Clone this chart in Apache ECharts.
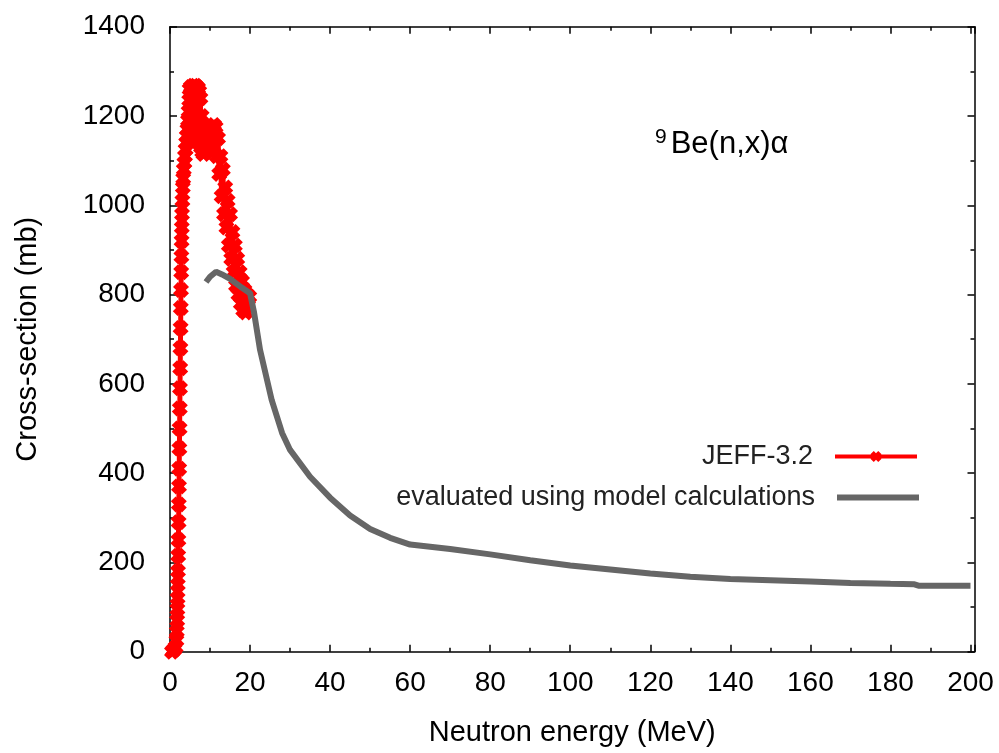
<!DOCTYPE html>
<html>
<head>
<meta charset="utf-8">
<script src="https://cdn.jsdelivr.net/npm/echarts@6/dist/echarts.min.js"></script>
<style>html,body{margin:0;padding:0;background:#fff}#c{width:999px;height:753px}</style>
</head>
<body>
<div id="c"></div>
<script>
// JEFF-3.2 evaluated data (energy in MeV, cross-section in mb)
var jeffEnergy = [0.5,0.8,1.1,1.4,1.6,1.7,1.8,1.85,1.9,1.95,2.0,2.05,2.1,2.15,2.2,2.25,2.3,2.35,2.4,2.45,2.5,2.55,2.6,2.65,2.7,2.75,2.8,2.85,2.9,2.95,3.0,3.1,3.2,3.3,3.45,3.6,3.75,3.9,4.05,4.2,4.35,4.5,4.65,4.8,
  4.9,5.05,5.2,5.35,5.5,5.65,5.8,5.95,6.1,6.25,6.4,6.55,6.7,6.85,7.0,7.15,7.3,7.45,7.6,7.75,7.9,8.05,8.2,8.35,8.6,8.9,9.2,9.5,9.8,10.1,10.4,10.7,11.0,
  11.4,11.7,12.0,12.3,12.6,12.9,13.2,13.5,13.8,14.1,14.4,14.7,15.0,15.3,15.6,15.9,16.2,16.5,16.8,17.1,17.4,17.7,18.0,18.3,18.6,18.9,19.2,19.5,19.8];
var jeffXs = [0,3,5,10,25,45,70,95,120,150,180,215,250,290,330,370,410,455,500,545,590,635,680,725,770,810,850,885,920,950,980,1010,1040,1060,1080,1095,1110,1125,1140,1155,1170,1190,1210,1235,
  1260,1180,1265,1150,1262,1170,1268,1140,1265,1180,1268,1150,1265,1170,1262,1140,1255,1180,1240,1130,1200,1120,1170,1115,1160,1120,1165,1125,1170,1130,1175,1140,1180,
  1175,1110,1150,1070,1110,1020,1080,980,1040,950,1010,910,980,880,940,850,910,820,880,800,850,780,830,765,810,760,800,775,795];
// Model calculation evaluation
var modelEnergy = [9,10,11.5,13,15,18,20,21,22.5,25.4,28,30,35,40,45,50,55,60,70,80,90,100,110,120,130,140,150,160,170,180,186,187,200];
var modelXs = [828,840,851,845,835,815,803,760,676,564,490,452,392,345,305,275,255,240,230,218,205,193,184,175,168,163,160,157,154,152,151,148,148];
var xTicks = {min: 0, max: 201, interval: 20};
var yTicks = {min: 0, max: 1400, interval: 200};
var seriesNames = ['JEFF-3.2', 'evaluated using model calculations'];
var titleSup = '9';
var titleMain = 'Be(n,x)\u03b1';

function pairs(xs, ys) { return xs.map(function (x, i) { return [x, ys[i]]; }); }

var FONT = '"Liberation Sans", Arial, sans-serif';
var crossPath = 'path://M0,3L3,0L5,2L7,0L10,3L8,5L10,7L7,10L5,8L3,10L0,7L2,5Z';

function xAx(pos, showLabel) {
  return {
    type: 'value', position: pos, min: xTicks.min, max: xTicks.max, interval: xTicks.interval,
    name: showLabel ? 'Neutron energy (MeV)' : '', nameLocation: 'middle', nameGap: 67,
    nameTextStyle: {fontFamily: FONT, fontSize: 29, color: '#000'},
    axisLine: {show: true, onZero: false, lineStyle: {color: '#000', width: 1.5}},
    axisTick: {show: true, inside: true, length: 7, lineStyle: {color: '#000', width: 1.5}},
    minorTick: {show: true, splitNumber: 2, length: 4, lineStyle: {color: '#000', width: 1.5}},
    splitLine: {show: false},
    axisLabel: {show: showLabel, showMaxLabel: false, margin: 18, fontFamily: FONT, fontSize: 28, color: '#000',
      formatter: function (v) { return String(v); }}
  };
}
function yAx(pos, showLabel) {
  return {
    type: 'value', position: pos, min: yTicks.min, max: yTicks.max, interval: yTicks.interval,
    name: showLabel ? 'Cross-section (mb)' : '', nameLocation: 'middle', nameGap: 128, nameRotate: 90,
    nameTextStyle: {fontFamily: FONT, fontSize: 29, color: '#000'},
    axisLine: {show: true, onZero: false, lineStyle: {color: '#000', width: 1.5}},
    axisTick: {show: true, inside: true, length: 7, lineStyle: {color: '#000', width: 1.5}},
    minorTick: {show: true, splitNumber: 2, length: 4, lineStyle: {color: '#000', width: 1.5}},
    splitLine: {show: false},
    axisLabel: {show: showLabel, margin: 25, fontFamily: FONT, fontSize: 28, color: '#000',
      formatter: function (v) { return String(v); }}
  };
}

var chart = echarts.init(document.getElementById('c'), null, {renderer: 'canvas'});
chart.setOption({
  animation: false,
  backgroundColor: '#fff',
  title: {
    text: '{s|' + titleSup + '}{m|' + titleMain + '}',
    left: 650, top: 122,
    textStyle: {
      rich: {
        s: {fontFamily: FONT, fontSize: 21, fontWeight: 'normal', color: '#000', verticalAlign: 'top', padding: [0, 4, 14, 0]},
        m: {fontFamily: FONT, fontSize: 31, fontWeight: 'normal', color: '#000'}
      }
    }
  },
  grid: {left: 170, right: 24.5, top: 26.7, bottom: 101.3, containLabel: false},
  xAxis: [xAx('bottom', true), xAx('top', false)],
  yAxis: [yAx('left', true), yAx('right', false)],
  legend: [
    {data: [seriesNames[0]], right: 80, top: 443, padding: 0, align: 'right', orient: 'vertical',
     itemWidth: 82, itemHeight: 14, lineStyle: {width: 4},
     textStyle: {fontFamily: FONT, fontSize: 27, color: '#222', padding: [0, 17, 0, 0]}},
    {data: [{name: seriesNames[1], icon: 'rect'}], right: 80, top: 484, padding: 0, align: 'right', orient: 'vertical',
     itemWidth: 82, itemHeight: 6,
     textStyle: {fontFamily: FONT, fontSize: 27, color: '#222', padding: [0, 17, 0, 0]}}
  ],
  series: [
    {
      name: seriesNames[0], type: 'line', data: pairs(jeffEnergy, jeffXs),
      symbol: crossPath, symbolSize: 16, showAllSymbol: true, clip: false,
      lineStyle: {color: '#ff0000', width: 5},
      itemStyle: {color: '#ff0000'}, z: 2
    },
    {
      name: seriesNames[1], type: 'line', data: pairs(modelEnergy, modelXs),
      symbol: 'none', lineStyle: {color: '#666666', width: 6}, itemStyle: {color: '#666666'}, z: 3
    }
  ]
});
</script>
</body>
</html>
